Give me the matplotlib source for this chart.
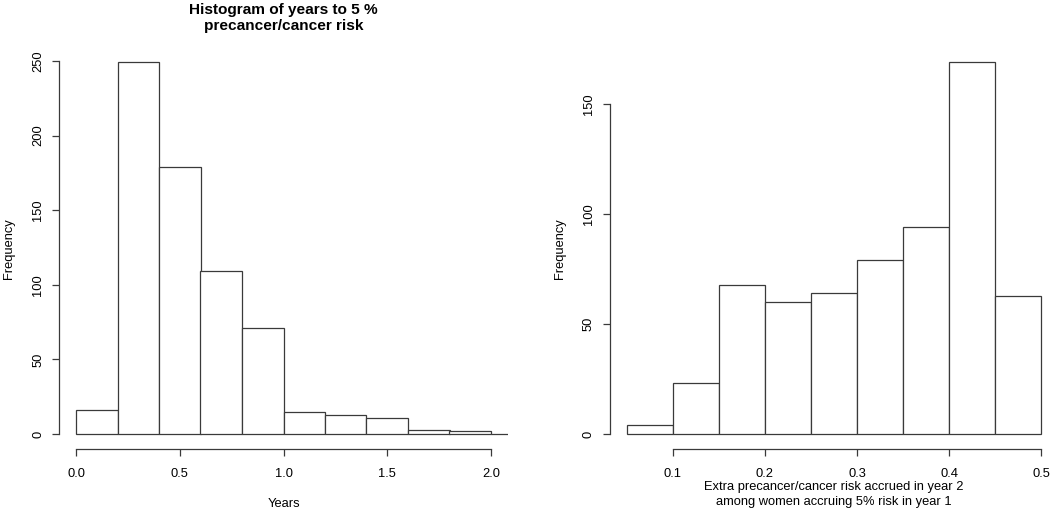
import matplotlib
matplotlib.use("Agg")
import matplotlib.pyplot as plt

plt.rcParams['font.family'] = ['Liberation Sans', 'DejaVu Sans']

# Left histogram: years to 5% risk
years_bins = [0.0, 0.2, 0.4, 0.6, 0.8, 1.0, 1.2, 1.4, 1.6, 1.8, 2.0, 2.2]
years_counts = [16, 249, 179, 109, 71, 15, 13, 11, 3, 2, 0]
years_xticks = [0.0, 0.5, 1.0, 1.5, 2.0]
years_xticklabels = ["0.0", "0.5", "1.0", "1.5", "2.0"]
years_yticks = [0, 50, 100, 150, 200, 250]

# Right histogram: extra risk in year 2
risk_bins = [0.05, 0.10, 0.15, 0.20, 0.25, 0.30, 0.35, 0.40, 0.45, 0.50]
risk_counts = [4, 23, 68, 60, 64, 79, 94, 169, 63]
risk_xticks = [0.1, 0.2, 0.3, 0.4, 0.5]
risk_xticklabels = ["0.1", "0.2", "0.3", "0.4", "0.5"]
risk_yticks = [0, 50, 100, 150]

line_col = '#3a3a3a'
fs = 9.3

fig = plt.figure(figsize=(10.5, 5.11), dpi=100)
ax1 = fig.add_axes([59.4/1050, 62.1/511, 448.2/1050, 401.3/511])
ax2 = fig.add_axes([610/1050, 62.1/511, 448.0/1050, 401.3/511])


def draw_hist(ax, bins, counts, xticks, xticklabels, yticks, xlim, ylim):
    lefts = bins[:-1]
    widths = [b - a for a, b in zip(bins[:-1], bins[1:])]
    ax.bar(lefts, counts, width=widths, align='edge', facecolor='white',
           edgecolor=line_col, linewidth=0.9)
    ax.set_xlim(*xlim)
    ax.set_ylim(*ylim)
    for s in ['top', 'right']:
        ax.spines[s].set_visible(False)
    ax.spines['left'].set_bounds(yticks[0], yticks[-1])
    ax.spines['bottom'].set_bounds(xticks[0], xticks[-1])
    for s in ['left', 'bottom']:
        ax.spines[s].set_color(line_col)
        ax.spines[s].set_linewidth(0.9)
    ax.set_xticks(xticks)
    ax.set_xticklabels(xticklabels)
    ax.set_yticks(yticks)
    ax.set_yticklabels([str(v) for v in yticks])
    ax.tick_params(axis='both', length=5, width=0.9, color=line_col,
                   labelsize=fs)
    ax.tick_params(axis='x', pad=8.5)
    ax.tick_params(axis='y', labelrotation=90, pad=6)
    for lab in ax.get_yticklabels():
        lab.set_va('center')


draw_hist(ax1, years_bins, years_counts, years_xticks, years_xticklabels,
          years_yticks, (-0.08, 2.08), (-9.96, 258.96))
draw_hist(ax2, risk_bins, risk_counts, risk_xticks, risk_xticklabels,
          risk_yticks, (0.032, 0.518), (-6.76, 175.76))

ax1.set_title("Histogram of years to 5 %\nprecancer/cancer risk",
              fontsize=11.1, fontweight='bold', pad=13, linespacing=1.15)
ax1.set_xlabel("Years", fontsize=fs, labelpad=13)
ax1.set_ylabel("Frequency", fontsize=fs, labelpad=12)
ax2.set_xlabel("Extra precancer/cancer risk accrued in year 2\namong women accruing 5% risk in year 1",
               fontsize=fs, labelpad=1, linespacing=1.3)
ax2.set_ylabel("Frequency", fontsize=fs, labelpad=12)

fig.savefig("out.png", dpi=100)
